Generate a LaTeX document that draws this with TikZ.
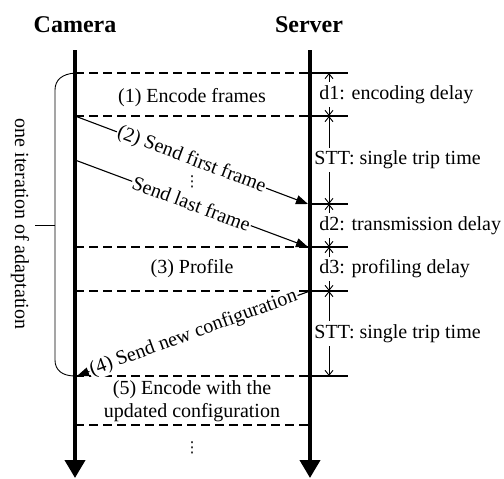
\documentclass[tikz,border=0pt]{standalone}
\usepackage{fontspec}
\setmainfont{Liberation Serif}
\newfontfamily\symfont{DejaVu Sans}
\usetikzlibrary{arrows.meta}

\begin{document}
\begin{tikzpicture}[x=1pt,y=-1pt,
  font=\fontsize{20}{23}\selectfont,
  timeline/.style={line width=4pt,-{Triangle[length=18pt,width=20pt]}},
  phase/.style={line width=1.1pt,dash pattern=on 9pt off 5pt},
  marker/.style={line width=1.1pt},
  msg/.style={line width=1.1pt,-{Triangle[length=12pt,width=9pt]}},
  dim/.style={line width=0.9pt,
    {Straight Barb[length=5pt,width=8pt]}-{Straight Barb[length=5pt,width=8pt]}},
  dimlabel/.style={fill=white,inner xsep=1pt,inner ysep=3pt,anchor=west},
  msglabel/.style={midway,sloped,fill=white,inner sep=1pt},
  ellipsis/.style={font=\symfont\fontsize{15}{15}\selectfont,inner sep=0pt},
  head/.style={font=\fontsize{24}{28}\selectfont\bfseries,anchor=base}]

\useasboundingbox (0,0) rectangle (504,479);

% lifelines
\coordinate (camTop) at (75,50);  \coordinate (camEnd) at (75,478);
\coordinate (srvTop) at (310,50); \coordinate (srvEnd) at (310,478);

% time marks on the camera side (c), server side (s), dimension axis (m), tick ends (e)
\foreach \n/\t in {1/73,2/116,3/204,4/247,5/291,6/376,7/425}{
  \coordinate (c\n) at (75,\t);
  \coordinate (s\n) at (310,\t);
  \coordinate (m\n) at (329,\t);
  \coordinate (e\n) at (348,\t);
}
\coordinate (c2b) at (75,160);
\coordinate (a3) at (308,204);
\coordinate (a4) at (308,247);
\coordinate (a6) at (77,376);

% headings
\node[head] (cam) at (75,32) {Camera};
\node[head] (srv) at (309,32) {Server};

% phase boundaries
\foreach \n in {1,2,4,5,6,7}{ \draw[phase] (c\n) -- (s\n); }
\foreach \n in {1,2,3,4,5,6}{ \draw[marker] (s\n) -- (e\n); }

% delay dimensions
\draw[dim] (m1) -- (m2) node[midway,dimlabel,xshift=-11pt] {d1: encoding delay};
\draw[dim] (m2) -- (m3) node[midway,dimlabel,xshift=-16pt] {STT: single trip time};
\draw[dim] (m3) -- (m4) node[midway,dimlabel,xshift=-11pt] {d2: transmission delay};
\draw[dim] (m4) -- (m5) node[midway,dimlabel,xshift=-11pt] {d3: profiling delay};
\draw[dim] (m5) -- (m6) node[midway,dimlabel,xshift=-16pt] {STT: single trip time};

% phase labels
\node[anchor=base] (enc) at (192,102) {(1) Encode frames};
\node[anchor=base] (prof) at (192,273) {(3) Profile};
\node[align=center] (enc2) at (192,401) {(5) Encode with the\\updated configuration};
\node[ellipsis] (dotsA) at (192,182) {⋮};
\node[ellipsis] (dotsB) at (192,448) {⋮};

% messages
\draw[msg] (c2) -- (a3) node[msglabel] {(2) Send first frame};
\draw[msg] (c2b) -- (a4) node[msglabel] {Send last frame};
\draw[msg] (s5) -- (a6) node[msglabel] {(4) Send new configuration};

% bracket for one adaptation iteration
\coordinate (brTop) at (55,90);
\coordinate (brBot) at (55,360);
\coordinate (brMid) at (55,225);
\coordinate (brTick) at (35,225);
\draw[line width=0.9pt] (c1) .. controls (62,74) and (55,80) .. (brTop)
  -- (brBot) .. controls (55,370) and (62,376) .. (c6);
\draw[line width=0.9pt] (brTick) -- (brMid);
\node[rotate=-90] (iter) at (20,224) {one iteration of adaptation};

% lifelines on top
\draw[timeline] (camTop) -- (camEnd);
\draw[timeline] (srvTop) -- (srvEnd);
\end{tikzpicture}
\end{document}
